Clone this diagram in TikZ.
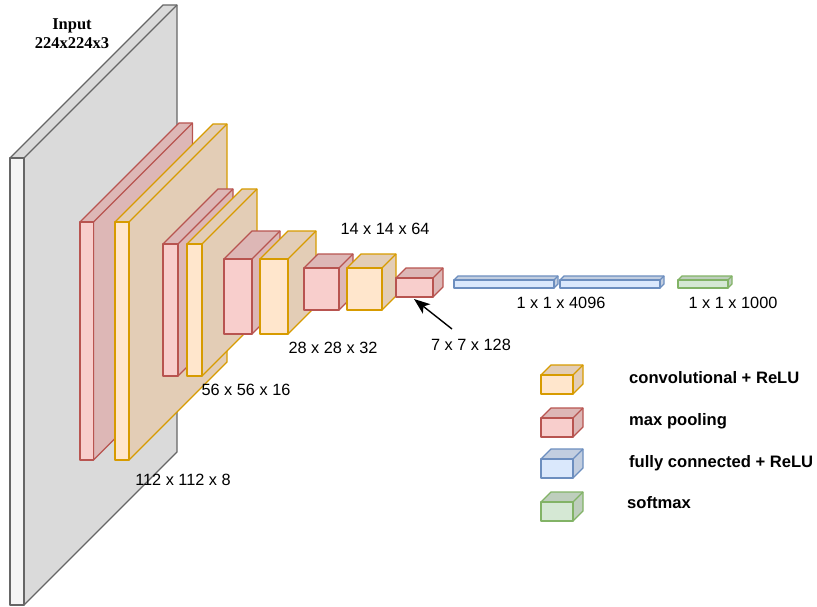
\documentclass[tikz,border=0pt]{standalone}
\usepackage{fontspec}
\setmainfont{Liberation Serif}
\newfontfamily\arialfont{Liberation Sans}
\usetikzlibrary{arrows.meta}

% draw.io palette
\definecolor{redfill}{HTML}{F8CECC}\definecolor{redline}{HTML}{B85450}
\definecolor{yelfill}{HTML}{FFE6CC}\definecolor{yelline}{HTML}{D79B00}
\definecolor{bluefill}{HTML}{DAE8FC}\definecolor{blueline}{HTML}{6C8EBF}
\definecolor{grnfill}{HTML}{D5E8D4}\definecolor{grnline}{HTML}{82B366}
\definecolor{grayfill}{HTML}{F5F5F5}\definecolor{grayline}{HTML}{666666}

% a box seen in oblique view: #1,#2 top-left of the front face,
% #3 width, #4 height, #5 depth, #6 fill, #7 stroke
\newcommand{\blockcube}[7]{%
  \filldraw[fill=#6!89!black, draw=#7, line width=1.3pt, line join=round]
    (#1,#2) -- ++(#5,-#5) -- ++(#3,0) -- ++(0,#4) -- (#1+#3,#2+#4) -- (#1+#3,#2) -- cycle;
  \draw[#7, line width=1.3pt] (#1+#3,#2) -- ++(#5,-#5);
  \filldraw[fill=#6, draw=#7, line width=1.3pt, line join=round]
    (#1,#2) rectangle ++(#3,#4);
}

\tikzset{
  dimlabel/.style={font=\arialfont\fontsize{16.3}{19}\selectfont, inner sep=1pt},
  legendlabel/.style={font=\arialfont\bfseries\fontsize{16.6}{19}\selectfont, anchor=west, inner sep=0pt},
  inputlabel/.style={font=\bfseries\fontsize{16.5}{20}\selectfont, align=center, inner sep=0pt},
  pointer/.style={-{Stealth[length=16pt,width=12pt,inset=4pt]}, line width=1.4pt, black}
}

\begin{document}
\begin{tikzpicture}[x=1pt,y=-1pt]
\useasboundingbox (0,0) rectangle (817,607);

% network layers
\blockcube{10}{158}{14}{447}{153}{grayfill}{grayline}
\blockcube{80}{222}{13.5}{238}{99}{redfill}{redline}
\blockcube{115}{222}{14}{238}{98}{yelfill}{yelline}
\blockcube{163}{244}{15}{132}{55}{redfill}{redline}
\blockcube{187}{244}{15}{132}{55}{yelfill}{yelline}
\blockcube{224}{259}{28}{75}{28}{redfill}{redline}
\blockcube{260}{259}{28}{75}{28}{yelfill}{yelline}
\blockcube{304}{268}{35}{42}{14}{redfill}{redline}
\blockcube{347}{268}{35}{42}{14}{yelfill}{yelline}
\blockcube{396}{278}{37}{19}{10}{redfill}{redline}
\blockcube{454}{280}{100}{8}{4}{bluefill}{blueline}
\blockcube{560}{280}{100}{8}{4}{bluefill}{blueline}
\blockcube{678}{280}{50}{8}{4}{grnfill}{grnline}

% labels
\node[inputlabel] (inp) at (72,34) {Input\\[-1pt]224x224x3};
\node[dimlabel] (l112) at (183,480) {112 x 112 x 8};
\node[dimlabel] (l56) at (246,390) {56 x 56 x 16};
\node[dimlabel] (l28) at (333,348) {28 x 28 x 32};
\node[dimlabel] (l14) at (385,229) {14 x 14 x 64};
\node[dimlabel] (l7) at (471,345) {7 x 7 x 128};
\node[dimlabel] (l4096) at (561,303) {1 x 1 x 4096};
\node[dimlabel] (l1000) at (733,303) {1 x 1 x 1000};

% pointer to the last pooling layer
\coordinate (ptail) at (452,329);
\coordinate (phead) at (414,299);
\draw[pointer] (ptail) -- (phead);

% legend
\blockcube{541}{375}{32}{19}{10}{yelfill}{yelline}
\blockcube{541}{418}{32}{19}{10}{redfill}{redline}
\blockcube{541}{459}{32}{19}{10}{bluefill}{blueline}
\blockcube{541}{502}{32}{19}{10}{grnfill}{grnline}
\node[legendlabel] (lg1) at (629,378) {convolutional + ReLU};
\node[legendlabel] (lg2) at (629,421) {max pooling};
\node[legendlabel] (lg3) at (629,463) {fully connected + ReLU};
\node[legendlabel] (lg4) at (627,503) {softmax};
\end{tikzpicture}
\end{document}
